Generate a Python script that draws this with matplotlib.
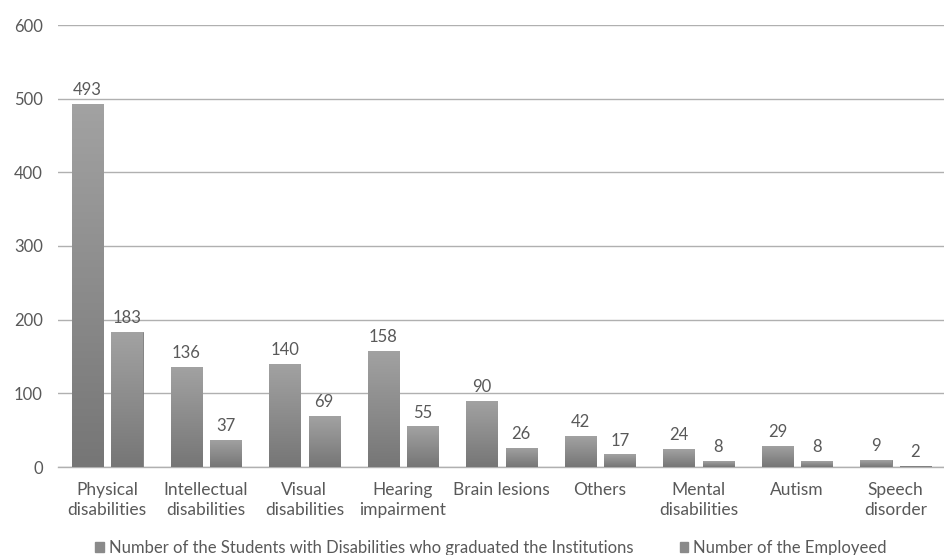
import matplotlib.pyplot as plt
import numpy as np

categories = ['Physical\ndisabilities', 'Intellectual\ndisabilities', 'Visual\ndisabilities',
              'Hearing\nimpairment', 'Brain lesions', 'Others', 'Mental\ndisabilities',
              'Autism', 'Speech\ndisorder']
graduated = [493, 136, 140, 158, 90, 42, 24, 29, 9]
employed = [183, 37, 69, 55, 26, 17, 8, 8, 2]
series_names = ['Number of the Students with Disabilities who graduated the Institutions',
                'Number of the Employeed']

plt.rcParams['font.family'] = ['Lato', 'DejaVu Sans']
txt = '#595959'

fig = plt.figure(figsize=(9.45, 5.55), dpi=100)
ax = fig.add_axes([58 / 945, 1 - 467 / 555, 1 - 58 / 945, (467 - 25) / 555])

x = np.arange(len(categories))
w = 0.315
b1 = ax.bar(x - 0.2, graduated, w, color='#8a8a8a', edgecolor='#7a7a7a', linewidth=0.6, zorder=3)
b2 = ax.bar(x + 0.2, employed, w, color='#8a8a8a', edgecolor='#7a7a7a', linewidth=0.6, zorder=3)

# vertical gradient on the bars
cm = plt.matplotlib.colors.LinearSegmentedColormap.from_list('g', ['#767676', '#a2a2a2'])
grad = np.linspace(0, 1, 100).reshape(-1, 1)
for bars in (b1, b2):
    for r in bars:
        x0, h = r.get_x(), r.get_height()
        im = ax.imshow(grad, extent=[x0, x0 + r.get_width(), 0, h], origin='lower',
                       cmap=cm, aspect='auto', zorder=3.5)
        im.set_clip_path(r)

for bars, vals in ((b1, graduated), (b2, employed)):
    for r, v in zip(bars, vals):
        ax.text(r.get_x() + r.get_width() / 2, v + 8, str(v), ha='center', va='bottom',
                fontsize=12, color=txt)

ax.set_xlim(-0.5, len(categories) - 0.5)
ax.set_ylim(0, 600)
ax.set_yticks(range(0, 601, 100))
ax.set_xticks(x)
ax.set_xticklabels(categories, fontsize=12.5, color=txt, linespacing=1.3)
ax.tick_params(axis='y', labelsize=12, colors=txt, length=0, pad=11)
ax.tick_params(axis='x', length=0, pad=11)
ax.grid(axis='y', color='#b0b0b0', linewidth=1, zorder=0)
for s in ('left', 'right', 'top'):
    ax.spines[s].set_visible(False)
ax.spines['bottom'].set_color('#b0b0b0')
ax.spines['bottom'].set_linewidth(1)

h1 = plt.Rectangle((0, 0), 1, 1, color='#8a8a8a')
h2 = plt.Rectangle((0, 0), 1, 1, color='#8a8a8a')
fig.legend([h1, h2], series_names, loc='center', bbox_to_anchor=(491 / 945, 1 - 548 / 555),
           ncol=2, frameon=False, fontsize=12, labelcolor=txt, handlelength=0.5,
           handleheight=0.5, handletextpad=0.3, columnspacing=2.8)

plt.savefig('out.png', dpi=100)
